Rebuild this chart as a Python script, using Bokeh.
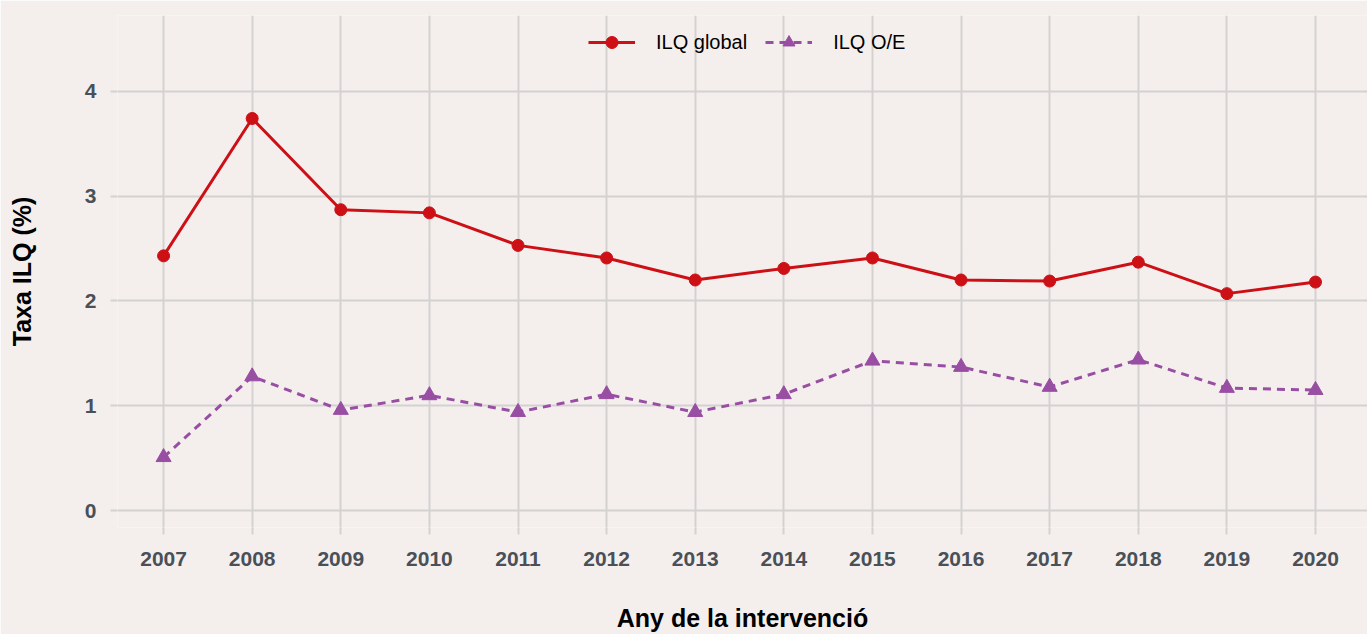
from bokeh.plotting import figure
from bokeh.models import Legend, LegendItem, FixedTicker, Range1d
from bokeh.embed import file_html
from bokeh.resources import INLINE

years = [2007, 2008, 2009, 2010, 2011, 2012, 2013, 2014, 2015, 2016, 2017, 2018, 2019, 2020]
ilq_global = [2.43, 3.74, 2.87, 2.84, 2.53, 2.41, 2.20, 2.31, 2.41, 2.20, 2.19, 2.37, 2.07, 2.18]
ilq_oe = [0.51, 1.28, 0.96, 1.10, 0.94, 1.11, 0.94, 1.11, 1.43, 1.37, 1.18, 1.44, 1.17, 1.15]
y_ticks = [0, 1, 2, 3, 4]

BG = "#F4EFED"
GRID = "#D4D2D1"
RED = "#CC1016"
PURPLE = "#984EA3"
FONT = "Liberation Sans"

p = figure(width=1367, height=634, output_backend="svg", toolbar_location=None,
           x_range=Range1d(2006.48, 2020.587), y_range=Range1d(-0.16, 4.722),
           min_border_left=117, min_border_right=0, min_border_top=15, min_border_bottom=106)
p.background_fill_color = BG
p.border_fill_color = BG
p.outline_line_color = None

for ax in (p.xaxis[0], p.yaxis[0]):
    ax.axis_line_color = None
    ax.major_tick_line_color = GRID
    ax.major_tick_line_width = 2
    ax.major_tick_out = 7
    ax.major_tick_in = 0
    ax.minor_tick_line_color = None
    ax.major_label_text_font = FONT
    ax.major_label_text_font_style = "bold"
    ax.major_label_text_font_size = "21px"
    ax.major_label_text_color = "#4A5057"
    ax.axis_label_text_font = FONT
    ax.axis_label_text_font_style = "bold"
    ax.axis_label_text_font_size = "25px"
    ax.axis_label_text_color = "#000000"

p.xaxis.ticker = FixedTicker(ticks=years)
p.yaxis.ticker = FixedTicker(ticks=y_ticks)
p.xaxis.axis_label = "Any de la intervenció"
p.yaxis.axis_label = "Taxa ILQ (%)"
p.xaxis.major_label_standoff = 17
p.yaxis.major_label_standoff = 14
p.xaxis.axis_label_standoff = 35
p.yaxis.axis_label_standoff = 46

p.xgrid.ticker = FixedTicker(ticks=years)
p.ygrid.ticker = FixedTicker(ticks=y_ticks)
for g in (p.xgrid[0], p.ygrid[0]):
    g.grid_line_color = GRID
    g.grid_line_width = 2

r1 = p.line(years, ilq_global, line_color=RED, line_width=3)
c1 = p.scatter(years, ilq_global, marker="circle", size=12, fill_color=RED, line_color=RED)
r2 = p.line(years, ilq_oe, line_color=PURPLE, line_width=3, line_dash="8 6")
c2 = p.scatter(years, ilq_oe, marker="triangle", size=15, fill_color=PURPLE, line_color=PURPLE)

legend = Legend(items=[LegendItem(label="ILQ global", renderers=[r1, c1]),
                       LegendItem(label="ILQ O/E", renderers=[r2, c2])],
                orientation="horizontal", location=(471, 470))
legend.background_fill_alpha = 0
legend.border_line_color = None
legend.glyph_width = 47
legend.glyph_height = 30
legend.label_text_font = FONT
legend.label_text_font_size = "20px"
legend.label_text_color = "#000000"
legend.spacing = 18
legend.label_standoff = 21
p.add_layout(legend)

open("out.html", "w").write(file_html(p, INLINE))
